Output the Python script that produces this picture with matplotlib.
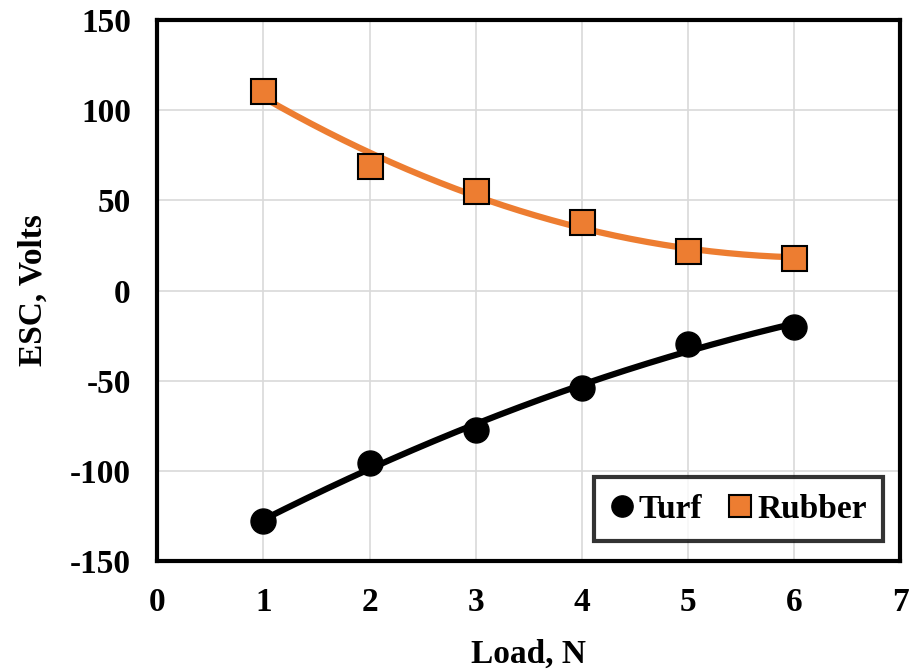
import numpy as np
import matplotlib
matplotlib.use("Agg")
import matplotlib.pyplot as plt

load = [1, 2, 3, 4, 5, 6]
turf = [-128, -95.5, -77.5, -54, -29.5, -20]
rubber = [110.5, 69, 55, 38, 22, 18]

x_ticks = [0, 1, 2, 3, 4, 5, 6, 7]
y_ticks = [-150, -100, -50, 0, 50, 100, 150]

plt.rcParams['font.family'] = ['Liberation Serif', 'DejaVu Serif']
plt.rcParams['font.weight'] = 'bold'
plt.rcParams['axes.unicode_minus'] = False

fig = plt.figure(figsize=(9.14, 6.71), dpi=100)
ax = fig.add_axes([0.172, 0.164, 0.813, 0.806])

orange = '#ED7D31'
xs = np.linspace(1, 6, 200)
pt = np.polyfit(load, turf, 2)
pr = np.polyfit(load, rubber, 2)
ax.plot(xs, np.polyval(pt, xs), color='black', lw=4.5, zorder=2)
ax.plot(xs, np.polyval(pr, xs), color=orange, lw=4.5, zorder=2)
ax.plot(load, turf, 'o', color='black', ms=18, label='Turf', zorder=3)
ax.plot(load, rubber, 's', color=orange, mec='black', mew=1.5, ms=18, label='Rubber', zorder=3)

ax.set_xlim(0, 7)
ax.set_ylim(-150, 150)
ax.set_xticks(x_ticks)
ax.set_yticks(y_ticks)
ax.grid(True, color='#d9d9d9', lw=1.2, zorder=0)
ax.set_axisbelow(True)
ax.tick_params(length=0, labelsize=24, pad=19)
for lab in ax.get_xticklabels() + ax.get_yticklabels():
    lab.set_fontweight('bold')
for s in ax.spines.values():
    s.set_linewidth(3)
    s.set_color('black')

ax.set_xlabel('Load, N', fontsize=24, fontweight='bold', labelpad=15)
ax.set_ylabel('ESC, Volts', fontsize=24, fontweight='bold', labelpad=15)

leg = ax.legend(loc='lower right', ncol=2, frameon=True, fancybox=False,
                handlelength=0.7, handletextpad=0.15, columnspacing=0.8,
                markerscale=0.85, borderpad=0.5, borderaxespad=0,
                bbox_to_anchor=(0.977, 0.036),
                prop={'weight': 'bold', 'size': 24})
leg.get_frame().set_edgecolor('black')
leg.get_frame().set_linewidth(3)

fig.savefig('out.png', dpi=100)
